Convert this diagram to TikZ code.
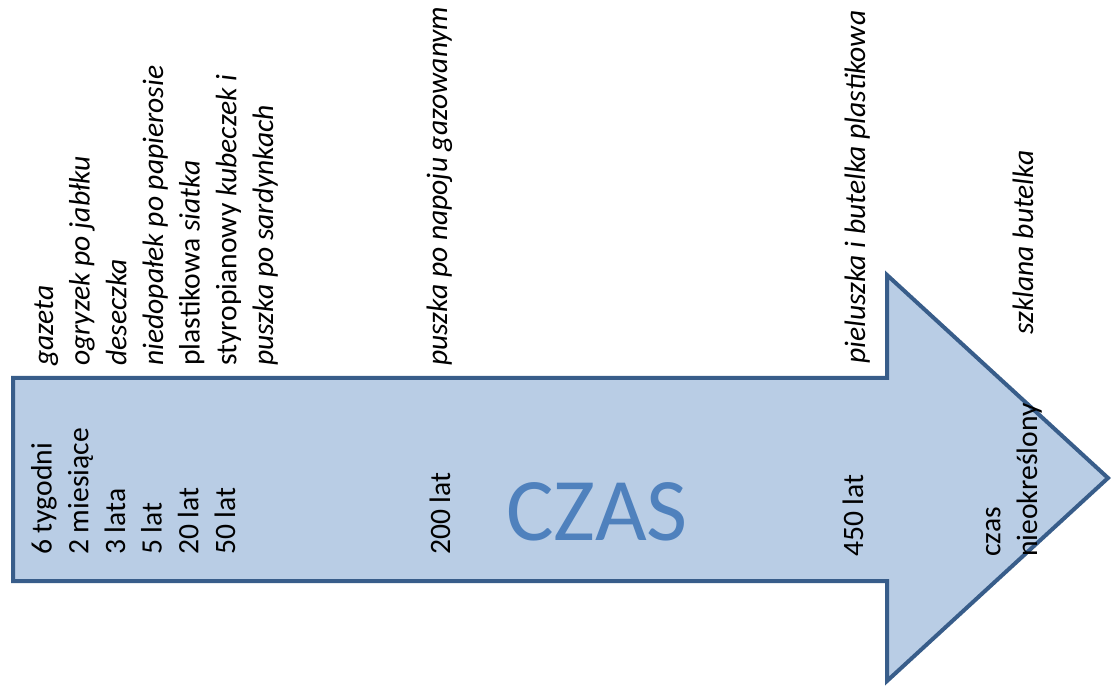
\documentclass[tikz,border=0pt]{standalone}
\usepackage{fontspec}
\setmainfont{Carlito}
\usepackage{tikz}

\definecolor{arrowline}{HTML}{385D8A}
\definecolor{arrowfill}{HTML}{B9CDE5}
\definecolor{czasblue}{HTML}{4F81BD}

\begin{document}
\begin{tikzpicture}[x=0.75pt,y=0.75pt,
    lbl/.style={rotate=90,anchor=base west,inner sep=0pt,align=left,
      font=\fontsize{22.2}{27.5}\selectfont\upshape}]
    \useasboundingbox (0,0) rectangle (1114,686);
    % the arrow
    \draw[arrowline,fill=arrowfill,line width=3pt,line join=miter]
      (13,308) -- (887,308) -- (887,411) -- (1108,208) -- (887,5)
      -- (887,105) -- (13,105) -- cycle;
    \node[font=\fontsize{67}{80}\selectfont,text=czasblue,anchor=base,
      inner sep=0pt] (czas) at (597,146) {CZAS};
    % how long it lasts (base = last line)
    \node[lbl] (times) at (235,131) {6 tygodni\\2 miesiące\\3 lata\\5 lat\\20 lat\\50 lat};
    \node[lbl] (t200) at (450,131) {200 lat};
    \node[lbl] (t450) at (863,129) {450 lat};
    \node[lbl] (nieokr) at (1037,129) {czas\\nieokreślony};
    % items
    \node[lbl] (items) at (273,320) {\textit{gazeta}\\
      \textit{ogryzek po jabłku}\\
      \textit{deseczka}\\
      \textit{niedopałek po papierosie}\\
      plastikowa \textit{siatka}\\
      styropianowy \textit{kubeczek i}\\
      \textit{puszka po sardynkach}};
    \node[lbl] (puszka) at (447,320) {\textit{puszka po napoju gazowanym}};
    \node[lbl] (pieluszka) at (865,322) {\textit{pieluszka i butelka plastikowa}};
    \node[lbl] (szklana) at (1033,351) {\textit{szklana butelka}};
\end{tikzpicture}
\end{document}
